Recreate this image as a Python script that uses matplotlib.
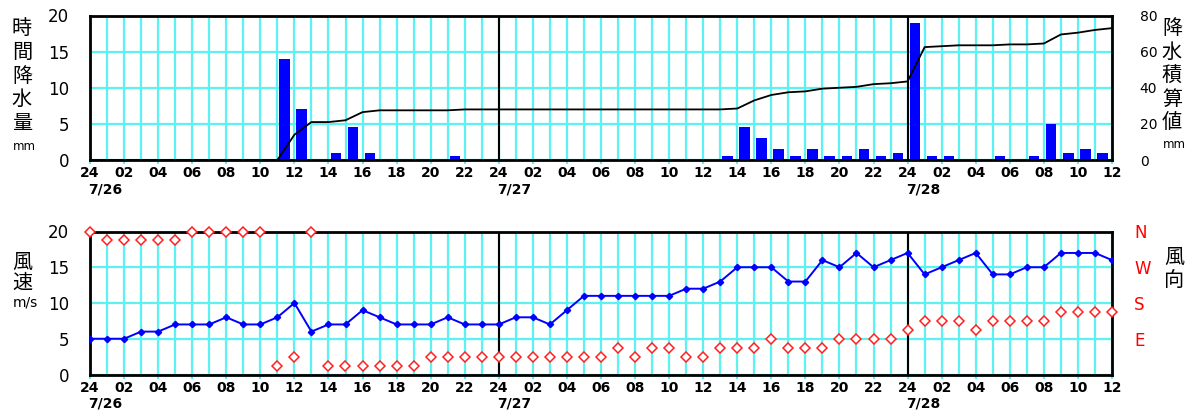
import numpy as np
import matplotlib
matplotlib.use("Agg")
import matplotlib.pyplot as plt

plt.rcParams.update({
    "font.family": ["DejaVu Sans"],
    "font.size": 10,
})
cjk = ["Noto Sans CJK JP", "DejaVu Sans"]

# hours since 7/26 00:00 (value is for the hour ending at that time)
hours = list(range(0, 61))

# hourly rainfall, mm
rain = [0, 0, 0, 0, 0, 0, 0, 0, 0, 0, 0, 0, 14, 7, 0, 1, 4.5, 1, 0, 0, 0, 0, 0.5, 0, 0,
        0, 0, 0, 0, 0, 0, 0, 0, 0, 0, 0, 0, 0, 0.5, 4.5, 3, 1.5, 0.5, 1.5, 0.5, 0.5, 1.5, 0.5, 1,
        19, 0.5, 0.5, 0, 0, 0.5, 0, 0.5, 5, 1, 1.5, 1]

# accumulated rainfall, mm
rain_acc = [0, 0, 0, 0, 0, 0, 0, 0, 0, 0, 0, 0, 14, 21, 21, 22, 26.5, 27.5, 27.5, 27.5, 27.5, 27.5, 28, 28, 28,
            28, 28, 28, 28, 28, 28, 28, 28, 28, 28, 28, 28, 28, 28.5, 33, 36, 37.5, 38, 39.5, 40, 40.5, 42, 42.5, 43.5,
            62.5, 63, 63.5, 63.5, 63.5, 64, 64, 64.5, 69.5, 70.5, 72, 73]

# wind speed, m/s
wind_speed = [5, 5, 5, 6, 6, 7, 7, 7, 8, 7, 7, 8, 10, 6, 7, 7, 9, 8, 7, 7, 7, 8, 7, 7, 7,
              8, 8, 7, 9, 11, 11, 11, 11, 11, 11, 12, 12, 13, 15, 15, 15, 13, 13, 16, 15, 17, 15, 16, 17,
              14, 15, 16, 17, 14, 14, 15, 15, 17, 17, 17, 16]

# wind direction, degrees (16 points)
wind_dir = [360, 337.5, 337.5, 337.5, 337.5, 337.5, 360, 360, 360, 360, 360, 22.5, 45, 360,
            22.5, 22.5, 22.5, 22.5, 22.5, 22.5, 45, 45, 45, 45, 45,
            45, 45, 45, 45, 45, 45, 67.5, 45, 67.5, 67.5, 45, 45, 67.5, 67.5, 67.5, 90,
            67.5, 67.5, 67.5, 90, 90, 90, 90,
            112.5, 135, 135, 135, 112.5, 135, 135, 135, 135, 157.5, 157.5, 157.5, 157.5]

tick_hours = list(range(0, 61, 2))
tick_labels = ["%02d" % (h % 24) if h % 24 else "24" for h in tick_hours]
days = [(0, "7/26"), (24, "7/27"), (48, "7/28")]

grid_c = "#5cf2f2"
W, H = 1195, 416
fig = plt.figure(figsize=(W / 100, H / 100), dpi=100)


def px(x, y):
    return x / W, 1 - y / H


def setup(ax, top, bottom):
    ax.set_position([90 / W, 1 - bottom / H, 1022 / W, (bottom - top) / H])
    ax.set_xlim(0, 60)
    ax.set_ylim(0, 20)
    ax.set_xticks(tick_hours)
    ax.set_xticklabels(tick_labels, fontweight="bold", fontsize=10)
    ax.set_xticks(hours, minor=True)
    ax.set_yticks([0, 5, 10, 15, 20])
    ax.tick_params(axis="x", which="major", length=3, width=1.5, color=grid_c, pad=1.5)
    ax.tick_params(axis="x", which="minor", length=0)
    ax.tick_params(axis="y", length=0, pad=15, labelsize=12)
    ax.grid(True, which="both", axis="x", color=grid_c, lw=1.6, zorder=0)
    ax.grid(True, which="major", axis="y", color=grid_c, lw=1.6, zorder=0)
    ax.set_axisbelow(True)
    for s in ax.spines.values():
        s.set_linewidth(2)
        s.set_color("black")
    for d, _ in days[1:]:
        ax.axvline(d, color="black", lw=1.5, zorder=1)
    for d, lab in days:
        ax.text(d - 0.1, -0.205, lab, transform=ax.get_xaxis_transform(),
                ha="left", va="center", fontsize=10, fontweight="bold")


# precipitation panel
ax1 = fig.add_axes([0, 0, 1, 1])
setup(ax1, 15.5, 160)
ax1.bar(np.array(hours) - 0.57, rain, width=0.62, color="#0000ff", zorder=2)
ax1r = ax1.twinx()
ax1r.set_position(ax1.get_position())
ax1r.set_ylim(0, 80)
ax1r.set_yticks([0, 20, 40, 60, 80])
ax1r.tick_params(axis="y", length=0, pad=20, labelsize=10)
ax1r.plot(hours, rain_acc, color="black", lw=1.3)
for s in ax1r.spines.values():
    s.set_visible(False)

# wind panel
ax2 = fig.add_axes([0, 0, 1, 1])
setup(ax2, 231.5, 374.5)
ax2.plot(hours, wind_speed, color="#0000ff", lw=1.4, marker="D", ms=3.2, zorder=3)
ax2r = ax2.twinx()
ax2r.set_position(ax2.get_position())
ax2r.set_ylim(0, 360)
ax2r.set_yticks([90, 180, 270, 360])
ax2r.set_yticklabels(["E", "S", "W", "N"], color="red", fontsize=12)
ax2r.tick_params(axis="y", length=0, pad=16)
ax2r.plot(hours, wind_dir, ls="none", marker="D", ms=5.5, mfc="white",
          mec="#ff2020", mew=1.1, clip_on=False, zorder=4)
for s in ax2r.spines.values():
    s.set_visible(False)

# side titles
def vtext(chars, x, y0, step, size=14.5):
    for i, ch in enumerate(chars):
        fig.text(*px(x, y0 + i * step), ch, ha="center", va="center",
                 fontsize=size, family=cjk)


vtext("時間降水量", 22, 29, 23.5)
fig.text(*px(24, 147), "mm", ha="center", va="center", fontsize=8.5)
vtext("降水積算値", 1172, 29, 23.5)
fig.text(*px(1174, 144), "mm", ha="center", va="center", fontsize=8.5)
vtext("風速", 22, 262, 21)
fig.text(*px(25, 302), "m/s", ha="center", va="center", fontsize=10)
vtext("風向", 1174, 257, 24)

fig.savefig("out.png", dpi=100)
